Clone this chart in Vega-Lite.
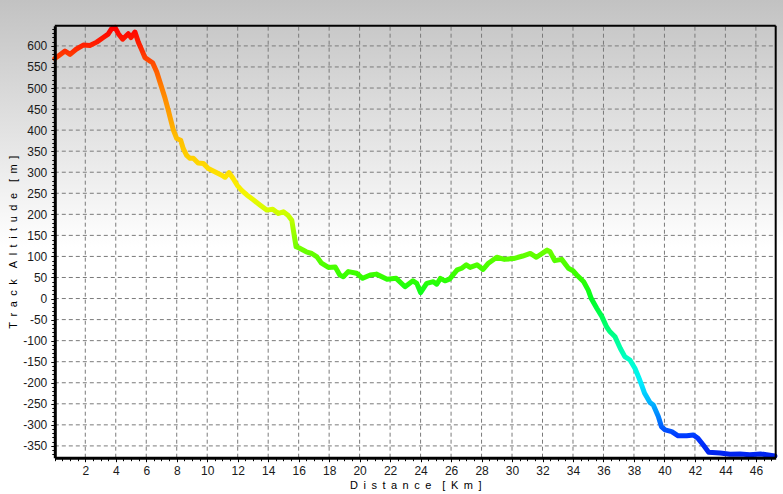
{
  "$schema": "https://vega.github.io/schema/vega-lite/v6.json",
  "width": 783,
  "height": 494,
  "autosize": {"type": "none"},
  "padding": 0,
  "background": "#ffffff",
  "config": {
    "view": {"stroke": null},
    "axis": {"labelFont": "Liberation Sans", "titleFont": "Liberation Sans", "labelOverlap": false, "labelFlush": false, "labelBound": false}
  },
  "resolve": {"axis": {"x": "independent", "y": "independent"}},
  "datasets": {
    "profile": [
      {"km": 0, "alt": 570}, {"km": 0.3, "alt": 578}, {"km": 0.67, "alt": 588}, {"km": 1.0, "alt": 580},
      {"km": 1.4, "alt": 592}, {"km": 1.87, "alt": 602}, {"km": 2.3, "alt": 601}, {"km": 2.75, "alt": 609},
      {"km": 3.18, "alt": 620}, {"km": 3.5, "alt": 628}, {"km": 3.73, "alt": 641}, {"km": 3.95, "alt": 644},
      {"km": 4.17, "alt": 629}, {"km": 4.45, "alt": 616}, {"km": 4.82, "alt": 629}, {"km": 5.0, "alt": 620},
      {"km": 5.26, "alt": 633}, {"km": 5.48, "alt": 609}, {"km": 5.7, "alt": 591}, {"km": 5.92, "alt": 572},
      {"km": 6.25, "alt": 564}, {"km": 6.42, "alt": 560}, {"km": 6.69, "alt": 538}, {"km": 6.9, "alt": 514},
      {"km": 7.23, "alt": 476}, {"km": 7.45, "alt": 447}, {"km": 7.56, "alt": 431}, {"km": 7.78, "alt": 400},
      {"km": 8.0, "alt": 380}, {"km": 8.26, "alt": 376}, {"km": 8.43, "alt": 356}, {"km": 8.65, "alt": 340},
      {"km": 8.87, "alt": 333}, {"km": 9.09, "alt": 333}, {"km": 9.4, "alt": 322}, {"km": 9.74, "alt": 321},
      {"km": 10.07, "alt": 309}, {"km": 10.5, "alt": 301}, {"km": 10.95, "alt": 293}, {"km": 11.17, "alt": 288},
      {"km": 11.43, "alt": 299}, {"km": 11.7, "alt": 285}, {"km": 11.97, "alt": 269}, {"km": 12.26, "alt": 257},
      {"km": 12.6, "alt": 246}, {"km": 13.0, "alt": 235}, {"km": 13.46, "alt": 222}, {"km": 13.9, "alt": 210},
      {"km": 14.3, "alt": 212}, {"km": 14.67, "alt": 202}, {"km": 15.0, "alt": 206}, {"km": 15.3, "alt": 198},
      {"km": 15.55, "alt": 186}, {"km": 15.65, "alt": 163}, {"km": 15.83, "alt": 123}, {"km": 16.1, "alt": 119},
      {"km": 16.5, "alt": 111}, {"km": 16.86, "alt": 107}, {"km": 17.2, "alt": 99}, {"km": 17.5, "alt": 84},
      {"km": 17.95, "alt": 74}, {"km": 18.4, "alt": 75}, {"km": 18.7, "alt": 56}, {"km": 18.93, "alt": 52},
      {"km": 19.26, "alt": 64}, {"km": 19.8, "alt": 60}, {"km": 20.2, "alt": 48}, {"km": 20.7, "alt": 56},
      {"km": 21.1, "alt": 58}, {"km": 21.8, "alt": 46}, {"km": 22.4, "alt": 48}, {"km": 22.98, "alt": 28},
      {"km": 23.5, "alt": 42}, {"km": 23.75, "alt": 36}, {"km": 24.0, "alt": 14}, {"km": 24.4, "alt": 36},
      {"km": 24.84, "alt": 40}, {"km": 25.06, "alt": 34}, {"km": 25.3, "alt": 48}, {"km": 25.6, "alt": 42},
      {"km": 25.9, "alt": 46}, {"km": 26.4, "alt": 68}, {"km": 26.7, "alt": 72}, {"km": 27.0, "alt": 80},
      {"km": 27.25, "alt": 74}, {"km": 27.7, "alt": 80}, {"km": 28.1, "alt": 69}, {"km": 28.45, "alt": 84},
      {"km": 29.0, "alt": 98}, {"km": 29.5, "alt": 93}, {"km": 30.1, "alt": 95}, {"km": 30.7, "alt": 101},
      {"km": 31.2, "alt": 107}, {"km": 31.6, "alt": 98}, {"km": 32.3, "alt": 115}, {"km": 32.5, "alt": 111},
      {"km": 32.8, "alt": 90}, {"km": 33.26, "alt": 93}, {"km": 33.7, "alt": 72}, {"km": 34.0, "alt": 66},
      {"km": 34.25, "alt": 56}, {"km": 34.7, "alt": 40}, {"km": 35.0, "alt": 20}, {"km": 35.2, "alt": 0},
      {"km": 35.56, "alt": -23}, {"km": 35.9, "alt": -43}, {"km": 36.2, "alt": -67}, {"km": 36.43, "alt": -79},
      {"km": 36.76, "alt": -91}, {"km": 37.1, "alt": -118}, {"km": 37.4, "alt": -138}, {"km": 37.74, "alt": -146},
      {"km": 38.07, "alt": -166}, {"km": 38.3, "alt": -186}, {"km": 38.5, "alt": -205}, {"km": 38.7, "alt": -225},
      {"km": 39.05, "alt": -247}, {"km": 39.27, "alt": -253}, {"km": 39.6, "alt": -280}, {"km": 39.8, "alt": -304},
      {"km": 40.04, "alt": -312}, {"km": 40.48, "alt": -316}, {"km": 40.9, "alt": -326}, {"km": 41.46, "alt": -326},
      {"km": 41.9, "alt": -324}, {"km": 42.2, "alt": -332}, {"km": 42.55, "alt": -348}, {"km": 42.9, "alt": -365},
      {"km": 43.65, "alt": -367}, {"km": 44.3, "alt": -370}, {"km": 44.96, "alt": -369}, {"km": 45.6, "alt": -371},
      {"km": 46.3, "alt": -369}, {"km": 46.7, "alt": -371}, {"km": 47.25, "alt": -374}
    ],
    "gx": [
      {"g": 2}, {"g": 4}, {"g": 6}, {"g": 8}, {"g": 10}, {"g": 12}, {"g": 14}, {"g": 16}, {"g": 18}, {"g": 20},
      {"g": 22}, {"g": 24}, {"g": 26}, {"g": 28}, {"g": 30}, {"g": 32}, {"g": 34}, {"g": 36}, {"g": 38}, {"g": 40},
      {"g": 42}, {"g": 44}, {"g": 46}
    ],
    "gy": [
      {"g": -350}, {"g": -300}, {"g": -250}, {"g": -200}, {"g": -150}, {"g": -100}, {"g": -50}, {"g": 0},
      {"g": 50}, {"g": 100}, {"g": 150}, {"g": 200}, {"g": 250}, {"g": 300}, {"g": 350}, {"g": 400},
      {"g": 450}, {"g": 500}, {"g": 550}, {"g": 600}
    ]
  },
  "layer": [
    {
      "data": {"values": [{}]},
      "mark": {
        "type": "rect",
        "strokeWidth": 0,
        "fill": {
          "gradient": "linear", "x1": 0, "y1": 0, "x2": 0, "y2": 1,
          "stops": [
            {"offset": 0, "color": "#c2c2c2"},
            {"offset": 0.5, "color": "#ffffff"},
            {"offset": 1, "color": "#ffffff"}
          ]
        }
      },
      "encoding": {}
    },
    {
      "data": {"name": "gy"},
      "mark": {"type": "rule", "stroke": "#7a7a7a", "strokeDash": [4, 3], "strokeWidth": 1},
      "encoding": {
        "y": {
          "field": "g", "type": "quantitative",
          "axis": {
            "orient": "left", "offset": -54.8, "zindex": 2, "title": null,
            "values": [-370, -360, -340, -330, -320, -310, -290, -280, -270, -260, -240, -230, -220, -210, -190, -180, -170, -160, -140, -130, -120, -110, -90, -80, -70, -60, -40, -30, -20, -10, 10, 20, 30, 40, 60, 70, 80, 90, 110, 120, 130, 140, 160, 170, 180, 190, 210, 220, 230, 240, 260, 270, 280, 290, 310, 320, 330, 340, 360, 370, 380, 390, 410, 420, 430, 440, 460, 470, 480, 490, 510, 520, 530, 540, 560, 570, 580, 590, 610, 620, 630, 640],
            "labels": false, "domain": false, "grid": false,
            "tickColor": "#000000", "tickSize": 3, "tickWidth": 1
          }
        },
        "x": {"datum": 0, "axis": null},
        "x2": {"datum": 47.3}
      }
    },
    {
      "data": {"name": "gx"},
      "mark": {"type": "rule", "stroke": "#7a7a7a", "strokeDash": [4, 3], "strokeWidth": 1},
      "encoding": {
        "x": {
          "field": "g", "type": "quantitative",
          "axis": {
            "orient": "bottom", "offset": -36.3, "zindex": 2, "title": null,
            "values": [0, 0.5, 1, 1.5, 2.5, 3, 3.5, 4.5, 5, 5.5, 6.5, 7, 7.5, 8.5, 9, 9.5, 10.5, 11, 11.5, 12.5, 13, 13.5, 14.5, 15, 15.5, 16.5, 17, 17.5, 18.5, 19, 19.5, 20.5, 21, 21.5, 22.5, 23, 23.5, 24.5, 25, 25.5, 26.5, 27, 27.5, 28.5, 29, 29.5, 30.5, 31, 31.5, 32.5, 33, 33.5, 34.5, 35, 35.5, 36.5, 37, 37.5, 38.5, 39, 39.5, 40.5, 41, 41.5, 42.5, 43, 43.5, 44.5, 45, 45.5, 46.5, 47],
            "labels": false, "domain": false, "grid": false,
            "tickColor": "#000000", "tickSize": 3, "tickWidth": 1
          }
        },
        "y": {"datum": -378, "axis": null},
        "y2": {"datum": 648}
      }
    },
    {
      "data": {"name": "profile"},
      "mark": {
        "type": "line",
        "strokeWidth": 5,
        "strokeCap": "round",
        "strokeJoin": "round",
        "stroke": {
          "gradient": "linear", "x1": 0, "y1": 0, "x2": 0, "y2": 1,
          "stops": [
            {"offset": 0, "color": "#ff0000"},
            {"offset": 0.043, "color": "#ff2200"},
            {"offset": 0.083, "color": "#ff4c00"},
            {"offset": 0.141, "color": "#ff8000"},
            {"offset": 0.22, "color": "#ffa800"},
            {"offset": 0.259, "color": "#ffbf00"},
            {"offset": 0.308, "color": "#ffd200"},
            {"offset": 0.348, "color": "#ffe400"},
            {"offset": 0.387, "color": "#f5f500"},
            {"offset": 0.436, "color": "#ccff00"},
            {"offset": 0.525, "color": "#66ff00"},
            {"offset": 0.584, "color": "#33ff00"},
            {"offset": 0.633, "color": "#00ff22"},
            {"offset": 0.731, "color": "#00ff99"},
            {"offset": 0.78, "color": "#00ffcc"},
            {"offset": 0.829, "color": "#00eeff"},
            {"offset": 0.878, "color": "#00b0ff"},
            {"offset": 0.927, "color": "#0066ff"},
            {"offset": 0.957, "color": "#0033ff"},
            {"offset": 1, "color": "#0022ee"}
          ]
        }
      },
      "encoding": {
        "x": {
          "field": "km", "type": "quantitative",
          "scale": {"domain": [0, 47.3], "range": [54.8, 775.7], "nice": false, "zero": false},
          "axis": {
            "orient": "bottom", "offset": -36.3, "zindex": 3,
            "values": [2, 4, 6, 8, 10, 12, 14, 16, 18, 20, 22, 24, 26, 28, 30, 32, 34, 36, 38, 40, 42, 44, 46],
            "labelExpr": "'' + datum.value",
            "grid": false,
            "domainColor": "#000000", "domainWidth": 3,
            "tickColor": "#000000", "tickSize": 4, "tickWidth": 1,
            "labelFontSize": 12, "labelColor": "#1a1a1a", "labelPadding": 4,
            "title": "D\u2002i\u2002s\u2002t\u2002a\u2002n\u2002c\u2002e\u2002\u2002[\u2002K\u2002m\u2002]",
            "titleFontSize": 11, "titleFontWeight": "normal", "titleColor": "#000000", "titlePadding": 3
          }
        },
        "y": {
          "field": "alt", "type": "quantitative",
          "scale": {"domain": [-378, 648], "range": [457.7, 25.7], "nice": false, "zero": false},
          "axis": {
            "orient": "left", "offset": -54.8, "zindex": 3,
            "values": [-350, -300, -250, -200, -150, -100, -50, 0, 50, 100, 150, 200, 250, 300, 350, 400, 450, 500, 550, 600],
            "labelExpr": "'' + datum.value",
            "grid": false,
            "domainColor": "#000000", "domainWidth": 3,
            "tickColor": "#000000", "tickSize": 4, "tickWidth": 1,
            "labelFontSize": 12, "labelColor": "#1a1a1a", "labelPadding": 4,
            "title": "T\u2002r\u2002a\u2002c\u2002k\u2002\u2002A\u2002l\u2002t\u2002i\u2002t\u2002u\u2002d\u2002e\u2002\u2002[\u2002m\u2002]",
            "titleFontSize": 11, "titleFontWeight": "normal", "titleColor": "#000000", "titlePadding": 4
          }
        }
      }
    },
    {
      "data": {"values": [{}]},
      "mark": {"type": "rule", "stroke": "#000000", "strokeWidth": 2},
      "encoding": {"x": {"datum": 0, "axis": null}, "x2": {"datum": 47.3}, "y": {"datum": 648, "axis": null}}
    },
    {
      "data": {"values": [{}]},
      "mark": {"type": "rule", "stroke": "#000000", "strokeWidth": 2},
      "encoding": {"x": {"datum": 47.3, "axis": null}, "y": {"datum": -378, "axis": null}, "y2": {"datum": 648}}
    }
  ]
}
